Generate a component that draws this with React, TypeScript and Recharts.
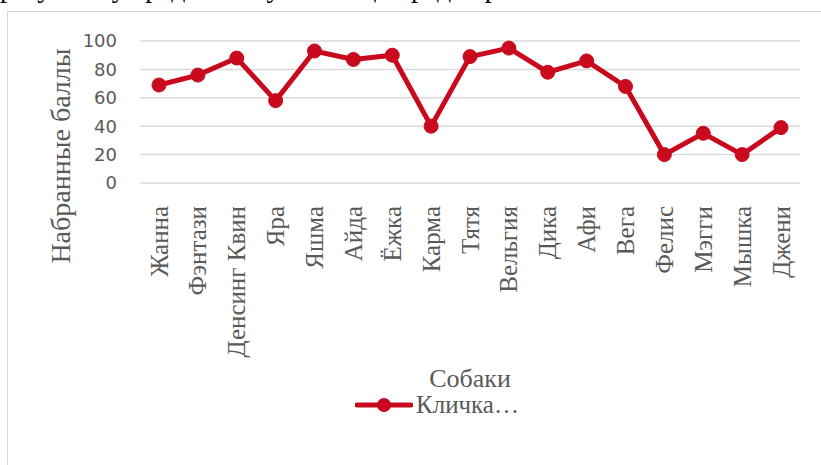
import React from 'react';
import { LineChart, Line, XAxis, YAxis, CartesianGrid, Legend, Label } from 'recharts';

const dogNames = ['Жанна', 'Фэнтази', 'Денсинг Квин', 'Яра', 'Яшма', 'Айда', 'Ёжка', 'Карма', 'Тятя', 'Вельгия', 'Дика', 'Афи', 'Вега', 'Фелис', 'Мэгги', 'Мышка', 'Джени'];
const scores = [69, 76, 88, 58, 93, 87, 90, 40, 89, 95, 78, 86, 68, 20, 35, 20, 39];
const yTicks = [0, 20, 40, 60, 80, 100];
const seriesName = 'Кличка…';
const xTitle = 'Собаки';
const yTitle = 'Набранные баллы';
const topLine = 'результату среди всех участниц перед соревнованием по';

const data = dogNames.map((name, i) => ({ name, score: scores[i] }));

const RED = '#C90A1E';
const GRAY = '#595959';
const SERIF = '"Liberation Serif", "Times New Roman", serif';

const XTick = (props: any) => {
  const { x, y, payload } = props;
  return (
    <g transform={`translate(${x},${y})`}>
      <text transform="rotate(-90)" x={-15} y={0} textAnchor="end" dominantBaseline="central"
        fontFamily={SERIF} fontSize={25} fill={GRAY}>
        {payload.value}
      </text>
    </g>
  );
};

const LegendContent = () => (
  <div style={{ display: 'flex', alignItems: 'center', whiteSpace: 'nowrap' }}>
    <svg width={58} height={16}>
      <line x1={2} y1={8} x2={56} y2={8} stroke={RED} strokeWidth={5} strokeLinecap="round" />
      <circle cx={29} cy={8} r={7} fill={RED} />
    </svg>
    <span style={{ fontFamily: SERIF, fontSize: 25, color: GRAY, marginLeft: 3 }}>{seriesName}</span>
  </div>
);

export default function App() {
  return (
    <div style={{ position: 'absolute', left: 0, top: 0, width: 821, height: 465, overflow: 'hidden', background: '#fff' }}>
      <div style={{ position: 'absolute', left: 0, top: -28, fontFamily: SERIF, fontSize: 28, color: '#000', whiteSpace: 'nowrap', lineHeight: '32px' }}>
        {topLine}
      </div>
      <div style={{ position: 'absolute', left: 7, top: 11, width: 840, height: 480, border: '1.5px solid #d9d9d9', boxSizing: 'border-box' }} />
      <div style={{ position: 'absolute', left: 0, top: 0 }}>
        <LineChart width={821} height={465} data={data} margin={{ top: 41, right: 21, left: 0, bottom: 0 }}>
          <CartesianGrid horizontal vertical={false} stroke="#d9d9d9" strokeWidth={1.5} />
          <XAxis dataKey="name" interval={0} tick={<XTick />} tickLine={false} axisLine={false} height={282}
            padding={{ left: 19, right: 19 }}>
            <Label position="insideBottom" offset={78} value={xTitle} fontFamily={SERIF} fontSize={26} fill={GRAY} />
          </XAxis>
          <YAxis domain={[0, 100]} ticks={yTicks} width={140} tickLine={false} axisLine={false} tickSize={0} tickMargin={23}
            tick={{ fontFamily: '"DejaVu Sans", sans-serif', fontSize: 18, fill: GRAY }} interval={0}>
            <Label content={() => (
              <text transform="translate(70,156) rotate(-90)" textAnchor="middle" fontFamily={SERIF} fontSize={28} fill={GRAY}>
                {yTitle}
              </text>
            )} />
          </YAxis>
          <Legend layout="horizontal" verticalAlign="middle" align="center"
            wrapperStyle={{ left: 355, top: 391, width: 'auto', height: 'auto' }} content={<LegendContent />} />
          <Line type="linear" dataKey="score" name={seriesName} stroke={RED} strokeWidth={5}
            dot={{ r: 7, fill: RED, stroke: RED, strokeWidth: 1 }} activeDot={false} isAnimationActive={false} />
        </LineChart>
      </div>
    </div>
  );
}
